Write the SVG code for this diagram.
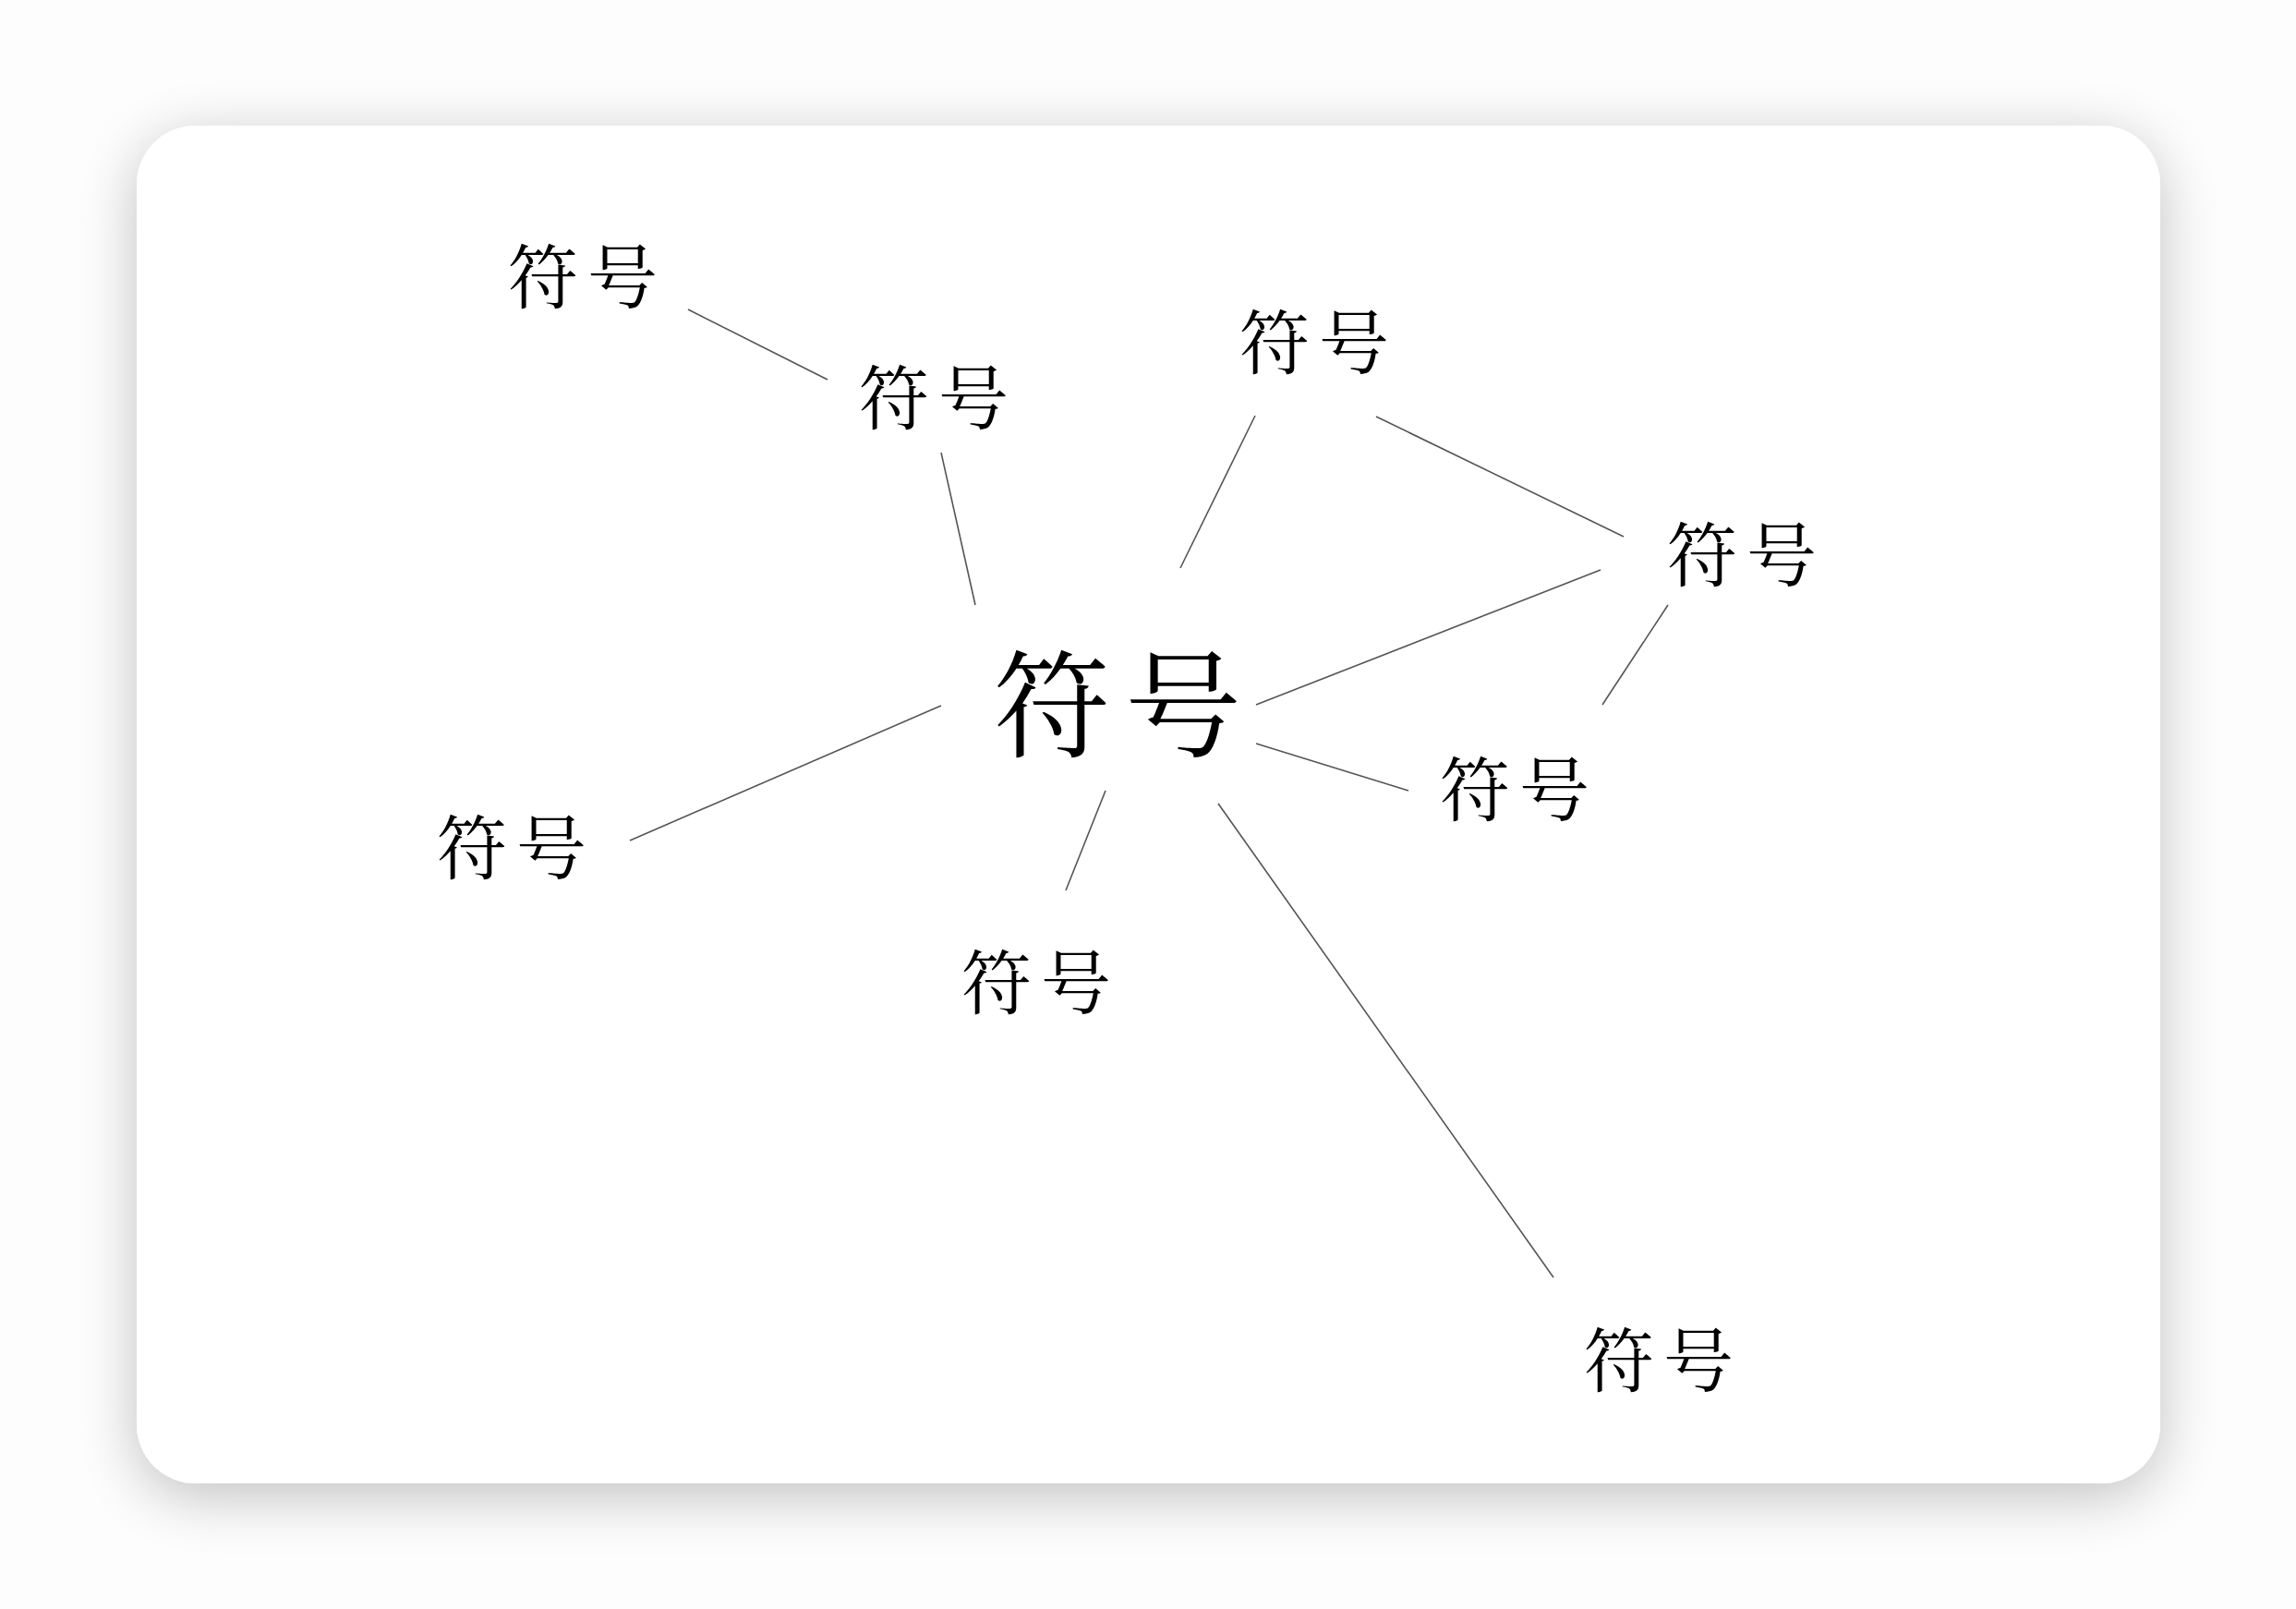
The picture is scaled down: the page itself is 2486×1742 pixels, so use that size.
<svg xmlns="http://www.w3.org/2000/svg" width="2486" height="1742" viewBox="0 0 2486 1742">
  <defs>
    <filter id="shadow" x="-10%" y="-10%" width="120%" height="125%">
      <feGaussianBlur in="SourceAlpha" stdDeviation="32"/>
      <feOffset dy="14" result="b"/>
      <feComponentTransfer><feFuncA type="linear" slope="0.24"/></feComponentTransfer>
      <feMerge><feMergeNode/><feMergeNode in="SourceGraphic"/></feMerge>
    </filter>
    <style>
      .lbl { font-family: "Noto Serif CJK SC", "Noto Sans CJK SC", serif; fill: #000; text-anchor: middle; dominant-baseline: central; }
      .s { font-size: 76px; letter-spacing: 10px; }
      .m { font-size: 126px; letter-spacing: 16px; }
      .edge { stroke: #555; stroke-width: 1.6; fill: none; }
    </style>
  </defs>
  <rect x="0" y="0" width="2486" height="1742" fill="#fdfdfd"/>
  <rect x="148" y="136" width="2191" height="1470" rx="64" ry="64" fill="#ffffff" filter="url(#shadow)"/>

  <g id="connectors">
    <line class="edge" x1="745" y1="335" x2="896" y2="411"/>
    <line class="edge" x1="1019" y1="490" x2="1056" y2="655"/>
    <line class="edge" x1="1359" y1="450" x2="1278" y2="615"/>
    <line class="edge" x1="1490" y1="451" x2="1758" y2="581"/>
    <line class="edge" x1="1733" y1="617" x2="1360" y2="763"/>
    <line class="edge" x1="1806" y1="655" x2="1735" y2="763"/>
    <line class="edge" x1="1360" y1="805" x2="1525" y2="856"/>
    <line class="edge" x1="1019" y1="764" x2="682" y2="910"/>
    <line class="edge" x1="1197" y1="856" x2="1154" y2="964"/>
    <line class="edge" x1="1319" y1="870" x2="1682" y2="1383"/>
  </g>

  <g id="node-center"><text class="lbl m" x="1218" y="755">符号</text></g>
  <g id="node-1"><text class="lbl s" x="636" y="295">符号</text></g>
  <g id="node-2"><text class="lbl s" x="1016" y="426">符号</text></g>
  <g id="node-3"><text class="lbl s" x="1428" y="366">符号</text></g>
  <g id="node-4"><text class="lbl s" x="1891" y="596">符号</text></g>
  <g id="node-5"><text class="lbl s" x="1645" y="850">符号</text></g>
  <g id="node-6"><text class="lbl s" x="559" y="913">符号</text></g>
  <g id="node-7"><text class="lbl s" x="1127" y="1059">符号</text></g>
  <g id="node-8"><text class="lbl s" x="1801" y="1468">符号</text></g>
</svg>
